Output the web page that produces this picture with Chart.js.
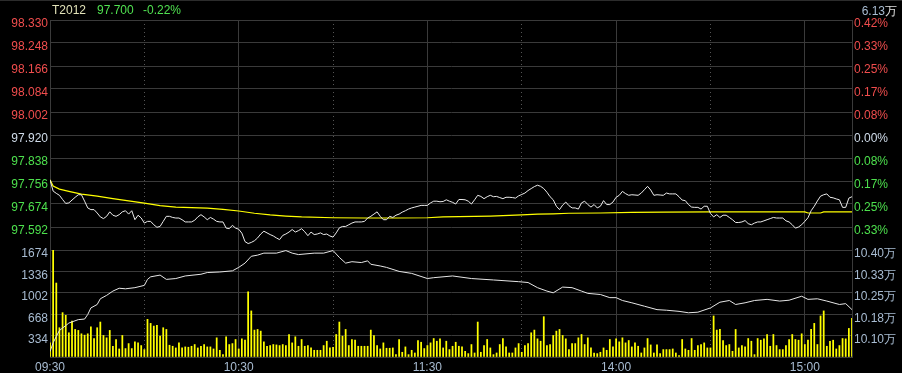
<!DOCTYPE html>
<html>
<head>
<meta charset="utf-8">
<script src="https://cdn.jsdelivr.net/npm/chart.js@4.4.1/dist/chart.umd.min.js"></script>
<style>
    html, body { margin: 0; padding: 0; background: #000; }
    #wrap { position: relative; width: 902px; height: 373px; overflow: hidden; background: #000; }
    #topline { position: absolute; left: 0; top: 0; width: 902px; height: 1px; background: #2c2c2c; }
    .t { position: absolute; top: 3px; font: 12px "Liberation Sans", Arial, sans-serif; white-space: nowrap; }
</style>
</head>
<body>
<div id="wrap">
    <canvas id="chart" width="902" height="373"></canvas>
    <div id="topline"></div>
    <span class="t" style="left:52px;color:#e2e2b8">T2012</span>
    <span class="t" style="left:97px;color:#50e050">97.700</span>
    <span class="t" style="left:143px;color:#50e050">-0.22%</span>
    <span class="t" style="right:5px;color:#a8bcd2">6.13<span style="color:#e0e0e0">万</span></span>
</div>
<script>
// 昨收
const prevClose = 97.920;

// 分时价格 (每分钟, 09:30 起, 0..255)
const price = [
    97.760, 97.720, 97.712, 97.705, 97.690, 97.676, 97.678, 97.688, 97.698, 97.707,
    97.707, 97.684, 97.660, 97.654, 97.654, 97.642, 97.628, 97.622, 97.630, 97.646,
    97.634, 97.630, 97.636, 97.646, 97.650, 97.638, 97.650, 97.618, 97.634, 97.624,
    97.606, 97.612, 97.612, 97.600, 97.591, 97.594, 97.612, 97.630, 97.630, 97.626,
    97.624, 97.624, 97.618, 97.610, 97.610, 97.610, 97.616, 97.628, 97.636, 97.628,
    97.618, 97.626, 97.620, 97.612, 97.610, 97.610, 97.588, 97.586, 97.598, 97.588,
    97.584, 97.570, 97.540, 97.533, 97.537, 97.543, 97.553, 97.567, 97.577, 97.571,
    97.565, 97.560, 97.553, 97.547, 97.562, 97.567, 97.574, 97.583, 97.574, 97.579,
    97.586, 97.575, 97.561, 97.574, 97.565, 97.567, 97.571, 97.565, 97.567, 97.560,
    97.556, 97.571, 97.589, 97.594, 97.594, 97.600, 97.606, 97.610, 97.610, 97.610,
    97.612, 97.624, 97.630, 97.638, 97.646, 97.630, 97.618, 97.618, 97.630, 97.626,
    97.634, 97.638, 97.645, 97.650, 97.656, 97.660, 97.663, 97.666, 97.669, 97.669,
    97.669, 97.678, 97.684, 97.684, 97.682, 97.683, 97.689, 97.684, 97.680, 97.674,
    97.690, 97.690, 97.689, 97.684, 97.674, 97.689, 97.705, 97.701, 97.693, 97.700,
    97.705, 97.700, 97.701, 97.697, 97.693, 97.698, 97.698, 97.697, 97.695, 97.703,
    97.708, 97.713, 97.722, 97.729, 97.736, 97.741, 97.737, 97.729, 97.716, 97.700,
    97.689, 97.666, 97.654, 97.670, 97.681, 97.668, 97.660, 97.660, 97.656, 97.678,
    97.684, 97.672, 97.663, 97.672, 97.660, 97.666, 97.686, 97.672, 97.672, 97.681,
    97.698, 97.705, 97.719, 97.711, 97.705, 97.707, 97.706, 97.705, 97.713, 97.725,
    97.737, 97.724, 97.705, 97.707, 97.706, 97.705, 97.713, 97.710, 97.710, 97.710,
    97.700, 97.688, 97.686, 97.672, 97.663, 97.662, 97.662, 97.656, 97.666, 97.666,
    97.640, 97.628, 97.636, 97.626, 97.634, 97.634, 97.626, 97.618, 97.608, 97.608,
    97.610, 97.615, 97.604, 97.600, 97.606, 97.610, 97.610, 97.614, 97.618, 97.622,
    97.626, 97.624, 97.624, 97.624, 97.614, 97.610, 97.600, 97.588, 97.592, 97.600,
    97.612, 97.625, 97.650, 97.666, 97.685, 97.702, 97.707, 97.710, 97.698, 97.696,
    97.692, 97.689, 97.662, 97.662, 97.695, 97.700
];

// 均价线
const avgTime = [0, 1, 3, 6, 10, 15, 20, 25, 30, 35, 40, 45, 50, 55, 60, 65, 70, 75, 80, 90,
    100, 110, 120, 125, 130, 140, 150, 155, 160, 165, 175, 185, 195, 210, 225, 240, 241, 245, 246, 255];
const avgPrice = [97.760, 97.738, 97.727, 97.719, 97.709, 97.702, 97.693, 97.685, 97.677, 97.668,
    97.663, 97.661, 97.659, 97.655, 97.649, 97.641, 97.635, 97.631, 97.628, 97.625,
    97.624, 97.624, 97.625, 97.628, 97.629, 97.631, 97.635, 97.638, 97.639, 97.641,
    97.642, 97.644, 97.645, 97.646, 97.646, 97.646, 97.642, 97.642, 97.646, 97.646];

// 成交量 (每分钟)
const volume = [
    221, 1674, 1157, 458, 694, 652, 379, 563, 431, 416,
    363, 342, 363, 473, 289, 458, 547, 337, 300, 416,
    168, 274, 126, 337, 132, 210, 132, 237, 221, 179,
    116, 589, 526, 484, 494, 326, 458, 431, 184, 168,
    142, 221, 142, 158, 153, 168, 195, 142, 168, 195,
    158, 158, 126, 300, 105, 37, 316, 195, 210, 274,
    126, 284, 263, 1020, 721, 421, 431, 405, 237, 168,
    179, 195, 189, 179,
    195, 179, 352, 221, 316, 168, 274, 168, 179, 142,
    105, 105, 105, 179, 247, 142, 153, 352, 547, 326,
    431, 179, 274, 263, 168, 168, 168, 168, 421, 337,
    179, 126, 221, 137, 137, 142, 37, 274, 74, 158,
    37, 105, 63, 258, 231, 132, 179, 221, 289, 247,
    284, 142, 247, 116, 168, 231, 168, 158, 89, 53,
    195, 63, 547, 74, 179, 274, 142, 37, 63, 195,
    289, 158, 63, 63, 142, 210, 74, 179, 210, 379,
    421, 284, 247, 631, 179, 195, 337, 405, 431, 337,
    284, 116, 210, 210, 300, 352, 195, 300, 142, 63,
    53,
    74, 142, 105, 274, 158, 284, 237, 300, 221, 258,
    158, 221, 168, 63, 142, 289, 189, 63, 189, 53,
    116, 116, 116, 126, 63, 21, 274, 126, 105, 289,
    105, 179, 195, 221, 142, 142, 642, 421, 431, 258,
    179, 195, 89, 431, 142, 179, 158, 289, 247, 37,
    289, 263, 284, 352, 168, 352, 179, 116, 116, 179,
    274, 352, 274, 263, 363, 195, 263, 431, 526, 195,
    642, 721, 168, 247, 263, 126, 179, 289, 284, 447,
    605
];

// 持仓量 (万)
const oiTime = [0, 1, 2, 3, 5, 6, 9, 11, 12, 13, 15, 16, 18, 20, 22, 24, 27, 30, 31, 32,
    35, 37, 40, 43, 48, 50, 54, 58, 60, 62, 64, 66, 68, 72, 75, 77, 79, 84, 87, 90,
    92, 94, 96, 99, 101, 102, 105, 107, 111, 115, 120, 122, 128, 134, 141, 149, 152, 155, 158, 160,
    163, 166, 169, 171, 175, 178, 180, 182, 185, 189, 193, 196, 200, 203, 206, 210, 213, 216, 218, 221,
    224, 228, 232, 235, 239, 241, 244, 247, 251, 253, 255];
const oiVal = [10.044, 10.075, 10.097, 10.118, 10.135, 10.144, 10.156, 10.158, 10.174, 10.197,
    10.209, 10.229, 10.241, 10.256, 10.266, 10.264, 10.268, 10.276, 10.297, 10.306,
    10.312, 10.297, 10.300, 10.309, 10.315, 10.321, 10.323, 10.327, 10.339, 10.354,
    10.378, 10.382, 10.389, 10.389, 10.398, 10.389, 10.384, 10.389, 10.389, 10.398,
    10.374, 10.354, 10.359, 10.356, 10.362, 10.350, 10.344, 10.339, 10.325, 10.318,
    10.300, 10.303, 10.309, 10.300, 10.295, 10.289, 10.286, 10.268, 10.256, 10.250,
    10.270, 10.268, 10.256, 10.248, 10.244, 10.233, 10.233, 10.223, 10.215, 10.203,
    10.191, 10.189, 10.185, 10.180, 10.182, 10.197, 10.217, 10.223, 10.209, 10.215,
    10.223, 10.227, 10.221, 10.224, 10.238, 10.227, 10.229, 10.221, 10.209, 10.212,
    10.191];

// 刻度
const priceTicks = [98.330, 98.248, 98.166, 98.084, 98.002, 97.920, 97.838, 97.756, 97.674, 97.592, 97.510];
const pctLabels = ['0.42%', '0.33%', '0.25%', '0.17%', '0.08%', '0.00%', '0.08%', '0.17%', '0.25%', '0.33%', ''];
const volTicks = [1674, 1336, 1002, 668, 334, 0];
const oiTicks = [10.400, 10.325, 10.250, 10.175, 10.100, 10.025];
const oiLabels = ['10.40万', '10.33万', '10.25万', '10.18万', '10.10万', ''];
const timeTicks = [0, 60, 120, 180, 240];
const timeLabels = ['09:30', '10:30', '11:30', '14:00', '15:00'];
const halfTicks = [30, 90, 150, 210];
const totalMinutes = 255;

const FONT = { family: "'Liberation Sans', Arial, sans-serif", size: 12 };
const GRID = "#3a3a3a";
const UP = "#f04d4d";
const DOWN = "#4de04d";
const FLAT = "#d0dcea";
const AXIS = "#a8bcd2";

const priceColor = v => Math.abs(v - prevClose) < 1e-6 ? FLAT : (v > prevClose ? UP : DOWN);
const idxOf = (arr, v) => arr.findIndex(a => Math.abs(a - v) < 1e-6);

const ctx = document.getElementById("chart").getContext("2d");

new Chart(ctx, {
    type: "line",
    data: {
        datasets: [
            {
                label: "价格",
                data: price.map((v, i) => ({ x: i, y: v })),
                xAxisID: "x", yAxisID: "y",
                borderColor: "#ececec", borderWidth: 1, pointRadius: 0, tension: 0
            },
            {
                label: "均价",
                data: avgTime.map((t, i) => ({ x: t, y: avgPrice[i] })),
                xAxisID: "x", yAxisID: "y",
                borderColor: "#ffff00", borderWidth: 1.2, pointRadius: 0, tension: 0
            },
            {
                label: "持仓量",
                data: oiTime.map((t, i) => ({ x: t, y: oiVal[i] })),
                xAxisID: "x", yAxisID: "yo",
                borderColor: "#e6e6e6", borderWidth: 1, pointRadius: 0, tension: 0
            },
            {
                type: "bar",
                label: "成交量",
                data: volume.map((v, i) => ({ x: i, y: v })),
                xAxisID: "x", yAxisID: "yv",
                backgroundColor: "#ffff00", borderWidth: 0, barThickness: 1.1
            }
        ]
    },
    options: {
        responsive: false,
        animation: false,
        events: [],
        layout: { padding: { top: 20, left: 0, right: 0, bottom: 0 } },
        plugins: { legend: { display: false }, tooltip: { enabled: false } },
        scales: {
            x: {
                type: "linear", position: "bottom", min: 0, max: totalMinutes, offset: false,
                afterBuildTicks: s => { s.ticks = timeTicks.map(v => ({ value: v })); },
                afterFit: s => { s.height = 16; },
                ticks: {
                    autoSkip: false, maxRotation: 0, padding: 3, color: AXIS, font: FONT,
                    callback: v => timeLabels[idxOf(timeTicks, v)]
                },
                grid: { color: GRID, drawTicks: false, offset: false },
                border: { color: GRID }
            },
            xd: {
                type: "linear", position: "bottom", min: 0, max: totalMinutes, offset: false,
                afterBuildTicks: s => { s.ticks = halfTicks.map(v => ({ value: v })); },
                afterFit: s => { s.height = 0; },
                ticks: { display: false },
                grid: { color: "#555555", drawTicks: false, offset: false },
                border: { display: false, dash: [1, 3] }
            },
            yv: {
                type: "linear", position: "left", stack: "L", stackWeight: 107,
                min: 0, max: 1674,
                afterBuildTicks: s => { s.ticks = volTicks.map(v => ({ value: v })); },
                afterFit: s => { s.width = 50; },
                ticks: {
                    autoSkip: false, padding: 2, labelOffset: 4, color: AXIS, font: FONT,
                    callback: v => v === 0 ? "" : String(v)
                },
                grid: { color: GRID, drawTicks: false },
                border: { color: GRID }
            },
            y: {
                type: "linear", position: "left", stack: "L", stackWeight: 230,
                min: 97.510, max: 98.330,
                afterBuildTicks: s => { s.ticks = priceTicks.map(v => ({ value: v })); },
                afterFit: s => { s.width = 50; },
                ticks: {
                    autoSkip: false, padding: 2, labelOffset: 4, font: FONT,
                    color: c => priceColor(c.tick.value),
                    callback: v => Math.abs(v - 97.510) < 1e-6 ? "" : v.toFixed(3)
                },
                grid: { color: GRID, drawTicks: false },
                border: { color: GRID }
            },
            yp: {
                type: "linear", position: "right", stack: "R", stackWeight: 230,
                min: 97.510, max: 98.330,
                afterBuildTicks: s => { s.ticks = priceTicks.map(v => ({ value: v })); },
                afterFit: s => { s.width = 50; },
                ticks: {
                    autoSkip: false, padding: 2, labelOffset: 4, font: FONT,
                    color: c => priceColor(c.tick.value),
                    callback: v => pctLabels[idxOf(priceTicks, v)]
                },
                grid: { drawOnChartArea: false, drawTicks: false },
                border: { color: GRID }
            },
            yo: {
                type: "linear", position: "right", stack: "R", stackWeight: 107,
                min: 10.025, max: 10.400,
                afterBuildTicks: s => { s.ticks = oiTicks.map(v => ({ value: v })); },
                afterFit: s => { s.width = 50; },
                ticks: {
                    autoSkip: false, padding: 2, labelOffset: 4, color: AXIS, font: FONT,
                    callback: v => oiLabels[idxOf(oiTicks, v)]
                },
                grid: { drawOnChartArea: false, drawTicks: false },
                border: { color: GRID }
            }
        }
    }
});
</script>
</body>
</html>
